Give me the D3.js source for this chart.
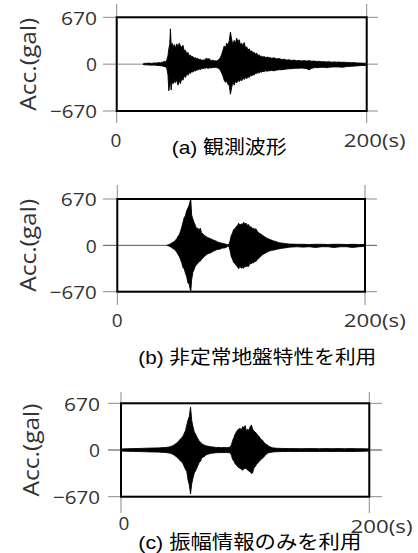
<!DOCTYPE html>
<html>
<head>
<meta charset="utf-8">
<script src="https://cdn.jsdelivr.net/npm/d3@7"></script>
<style>
  html, body { margin: 0; padding: 0; background: #fff; }
  svg { display: block; }
</style>
</head>
<body>
<svg id="chart" width="418" height="553"></svg>
<script>
// ---------------- DATA ----------------
const yTicks = [-670, 0, 670];
const xTicks = [0, 200];
const xTickLabels = ["0", "200(s)"];
const yLabel = "Acc.(gal)";
const captions = ["(a) 観測波形", "(b) 非定常地盤特性を利用", "(c) 振幅情報のみを利用"];

// Panel (a) observed waveform: envelope (upper / lower) in gal vs time (s)
const aTime = [21,22,24,26,28,30,32,34,35,36,37,38,39,40,41,41.7,42.4,43,43.6,44.3,
  45,46,47,48,49,50,51,52,53,54,55,56,57,58,59,60,61,62,63,64,65,66,67,68,69,70,71,72,73,74,
  75,76,77,78,79,80,81,82,83,84,85,86,87,88,89,90,91,92,93,94,95,96,97,98,99,100,101,102,103,104,
  105,106,107,108,109,110,111,112,113,114,115,116,117,118,119,120,
  122,124,126,128,130,132,134,136,138,140,142,144,146,148,150,152,154,156,158,160,
  162,164,166,168,170,172,174,176,178,180,182,184,186,188,190,192,194,196,198,200];
const aUpper = [0,10,12,15,10,18,15,22,18,30,25,40,35,55,120,220,280,505,260,300,
  240,280,230,290,250,300,260,240,270,190,200,150,170,120,130,100,110,85,95,75,80,65,70,55,60,55,75,85,70,80,
  55,50,60,45,50,45,55,70,100,140,200,260,230,300,270,330,460,350,280,340,300,370,320,350,280,300,260,310,230,250,
  200,220,180,190,160,170,140,160,120,135,105,115,100,110,95,100,
  95,85,90,75,80,65,70,58,62,52,58,48,52,46,50,44,50,42,44,38,
  40,34,36,32,35,28,32,28,30,26,28,24,24,20,22,18,16,15,13,10];
const aLower = [0,-10,-10,-12,-15,-12,-18,-20,-25,-22,-30,-32,-40,-50,-150,-380,-300,-250,-370,-230,
  -280,-240,-270,-220,-300,-240,-280,-200,-230,-170,-190,-140,-160,-120,-135,-100,-115,-90,-100,-80,-85,-70,-80,-60,-65,-55,-60,-50,-60,-55,
  -50,-55,-45,-50,-45,-50,-55,-65,-90,-130,-170,-230,-260,-240,-290,-300,-430,-330,-260,-300,-240,-270,-230,-250,-220,-240,-200,-220,-190,-210,
  -180,-190,-160,-170,-150,-155,-130,-135,-120,-125,-110,-115,-100,-110,-95,-100,
  -95,-90,-95,-85,-80,-80,-75,-70,-65,-65,-60,-60,-58,-55,-60,-65,-80,-60,-50,-50,
  -48,-45,-45,-50,-45,-42,-40,-40,-40,-45,-40,-35,-32,-30,-28,-25,-22,-20,-18,-12];

// Panel (b) non-stationary site characteristics
const bTime = [40,41,42,43,44,45,46,47,48,49,50,51,52,53,54,55,56,57,58,59.3,
  60,61,62,63,64,65,66,67,68,69,70,71,72,73,74,75,76,77,78,79,80,81,82,83,84,85,86,87,88,89,
  90,91,92,93,94,95,96,97,98,99,100,101,102,103,104,105,106,107,108,109,110,111,112,113,114,115,116,117,118,119,
  120,121,122,123,124,125,126,127,128,129,130,131,132,133,134,135,136,137,138,139,140,
  145,150,155,160,165,170,175,180,185,190,195,200];
const bUpper = [0,5,15,22,35,45,55,75,95,130,150,200,260,330,400,430,500,540,580,670,
  440,380,330,290,240,250,210,250,180,170,145,140,120,115,105,95,90,80,75,65,60,50,42,38,32,30,25,20,15,10,
  10,60,140,180,230,240,270,285,320,290,310,300,335,305,320,290,300,260,270,240,250,230,240,200,190,170,165,145,140,120,
  115,100,95,85,80,70,65,60,55,48,42,38,35,32,30,28,25,22,20,18,18,
  15,15,12,15,15,12,15,15,12,15,12,12];
const bLower = [0,-5,-15,-22,-35,-45,-60,-75,-100,-130,-160,-200,-250,-320,-340,-400,-450,-540,-560,-670,
  -500,-390,-350,-300,-280,-260,-235,-230,-200,-185,-160,-155,-130,-125,-115,-110,-105,-90,-80,-75,-65,-60,-55,-55,-45,-40,-38,-35,-30,-12,
  -10,-70,-160,-200,-250,-260,-290,-310,-340,-300,-330,-320,-330,-300,-310,-300,-305,-260,-270,-250,-255,-230,-235,-200,-195,-165,-160,-135,-130,-115,
  -110,-95,-90,-80,-75,-70,-70,-65,-60,-55,-52,-50,-45,-42,-40,-38,-35,-32,-30,-28,-25,
  -20,-25,-20,-30,-20,-20,-30,-20,-20,-30,-20,-15];

// Panel (c) amplitude information only
const cTime = [0,5,10,15,20,25,30,35,38,
  40,41,42,43,44,45,46,47,48,49,50,51,52,53,54,55,56,57,58,59,60,61,62,63,64,65,66,67,68,69,
  70,71,72,73,74,75,76,77,78,79,80,81,82,83,84,85,86,87,88,89,90,91,92,93,94,95,96,97,98,99,
  100,101,102,103,104,105,106,107,108,109,110,111,112,113,114,115,116,117,118,119,120,121,122,123,124,125,
  130,135,140,145,150,155,160,165,170,175,180,185,190,195,200];
const cUpper = [15,18,20,22,25,28,30,35,40,
  50,55,65,75,90,100,120,140,160,175,200,240,280,360,430,480,615,420,330,260,230,190,160,125,115,90,80,72,65,58,
  55,50,48,45,42,40,38,36,38,35,36,34,36,35,36,34,36,38,40,80,140,180,230,260,290,300,310,290,335,320,
  350,270,300,280,330,360,300,270,260,240,215,200,170,150,140,110,95,80,72,55,45,38,32,30,28,25,
  22,20,20,18,20,20,18,20,18,20,18,20,18,18,15];
const cLower = [-15,-18,-20,-22,-25,-28,-30,-35,-40,
  -50,-55,-65,-75,-90,-100,-120,-140,-160,-170,-200,-240,-280,-310,-430,-500,-630,-480,-400,-330,-300,-263,-220,-180,-160,-120,-100,-96,-80,-65,
  -60,-55,-50,-48,-45,-42,-40,-38,-40,-36,-38,-36,-38,-36,-38,-36,-38,-38,-40,-80,-140,-160,-200,-215,-240,-255,-263,-280,-290,-270,
  -265,-263,-290,-300,-311,-335,-330,-260,-240,-210,-191,-170,-150,-130,-120,-100,-80,-60,-48,-40,-35,-32,-30,-28,-26,-25,
  -22,-20,-22,-20,-20,-22,-20,-20,-22,-20,-20,-22,-20,-18,-15];

// ---------------- LAYOUT ----------------
const panels = [
  { t: aTime, up: aUpper, lo: aLower, left: 116.7, right: 366.7, top: 17.3, bottom: 111,
    gx0: 103, gx1: 378, gy0: 4, gy1: 123, yTickRight: 97, xlabY: 146.7, x0lab: 115.5, x200dx: -23.5, x200dy: 0,
    capX: 171.7, capY: 153.5, capW: 115, ylabX: 36, zeroCol: "#8a8a8a", cap: captions[0] },
  { t: bTime, up: bUpper, lo: bLower, left: 117.3, right: 365, top: 199, bottom: 291.7,
    gx0: 103, gx1: 377, gy0: 185, gy1: 305, yTickRight: 96.7, xlabY: 326.7, x0lab: 116.7, x200dx: -21.7, x200dy: 0,
    capX: 138.3, capY: 363.5, capW: 238, ylabX: 36, zeroCol: "#555", cap: captions[1] },
  { t: cTime, up: cUpper, lo: cLower, left: 121, right: 369.3, top: 403.3, bottom: 496.7,
    gx0: 108, gx1: 382, gy0: 392, gy1: 513, yTickRight: 100, xlabY: 530, x0lab: 123.3, x200dx: -19.3, x200dy: 3,
    capX: 138.3, capY: 548.5, capW: 223, ylabX: 39, zeroCol: "#444", cap: captions[2] }
];

const svg = d3.select("#chart");
svg.append("rect").attr("width", 418).attr("height", 553).attr("fill", "#fff");

const tickFont = "'Open Sans', 'DejaVu Sans', sans-serif";
const capFont = "'Liberation Sans', 'Noto Sans CJK JP', sans-serif";
const fmt = d => d < 0 ? "\u2212" + Math.abs(d) : String(d);
const yTickWidths = { "-670": 47, "0": 11, "670": 36 };

panels.forEach(p => {
  const x = d3.scaleLinear().domain([0, 200]).range([p.left, p.right]);
  const y = d3.scaleLinear().domain([-670, 670]).range([p.bottom, p.top]);
  const g = svg.append("g");

  // grid lines extending beyond frame
  g.selectAll("line.h").data(yTicks).join("line")
    .attr("x1", p.gx0).attr("x2", p.gx1)
    .attr("y1", d => y(d)).attr("y2", d => y(d))
    .attr("stroke", d => d === 0 ? p.zeroCol : "#8a8a8a").attr("stroke-width", 1);
  g.selectAll("line.v").data(xTicks).join("line")
    .attr("x1", d => x(d)).attr("x2", d => x(d))
    .attr("y1", p.gy0).attr("y2", p.gy1)
    .attr("stroke", "#8a8a8a").attr("stroke-width", 1);

  // waveform envelope
  const n = Math.min(p.t.length, p.up.length, p.lo.length);
  const pts = d3.range(n).map(i => ({ t: p.t[i], u: p.up[i], l: p.lo[i] }));
  const area = d3.area().x(d => x(d.t)).y0(d => y(d.l)).y1(d => y(d.u));
  g.append("path").datum(pts).attr("d", area)
    .attr("fill", "#000").attr("stroke", "#000").attr("stroke-width", 0.9).attr("stroke-linejoin", "miter");

  // frame
  g.append("rect").attr("x", p.left).attr("y", p.top)
    .attr("width", p.right - p.left).attr("height", p.bottom - p.top)
    .attr("fill", "none").attr("stroke", "#000").attr("stroke-width", 2);

  // y axis labels
  const yAxis = d3.axisLeft(y).tickValues(yTicks).tickSize(0).tickPadding(0).tickFormat(fmt);
  const ya = g.append("g").attr("transform", `translate(${p.yTickRight},0)`).call(yAxis);
  ya.select(".domain").remove();
  ya.selectAll("text").attr("font-family", tickFont).attr("font-size", 19).attr("fill", "#333")
    .attr("x", 0).attr("dy", "0.36em")
    .each(function(d) {
      const w = yTickWidths[String(d)];
      if (w) d3.select(this).attr("textLength", w).attr("lengthAdjust", "spacingAndGlyphs");
    });

  // x axis labels
  const xAxis = d3.axisBottom(x).tickValues(xTicks).tickSize(0).tickPadding(0)
    .tickFormat((d, i) => xTickLabels[i]);
  const xa = g.append("g").attr("transform", `translate(0,${p.xlabY})`).call(xAxis);
  xa.select(".domain").remove();
  xa.selectAll("text").attr("font-family", tickFont).attr("font-size", 19).attr("fill", "#333")
    .attr("y", 0).attr("dy", (d, i) => i === 0 ? 0 : p.x200dy)
    .attr("text-anchor", (d, i) => i === 0 ? "middle" : "start")
    .attr("x", (d, i) => i === 0 ? p.x0lab - x(d) : p.x200dx)
    .each(function(d, i) {
      if (i === 1) d3.select(this).attr("textLength", 62).attr("lengthAdjust", "spacingAndGlyphs");
    });

  // y title
  g.append("text").attr("transform", `translate(${p.ylabX},${y(0)}) rotate(-90)`)
    .attr("text-anchor", "middle")
    .attr("font-family", tickFont).attr("font-size", 21).attr("fill", "#333")
    .attr("textLength", 93).attr("lengthAdjust", "spacingAndGlyphs").text(yLabel);

  // caption
  g.append("text").attr("x", p.capX).attr("y", p.capY).attr("text-anchor", "start")
    .attr("font-family", capFont).attr("font-size", 19).attr("fill", "#000")
    .attr("textLength", p.capW).attr("lengthAdjust", "spacingAndGlyphs").text(p.cap);
});
</script>
</body>
</html>
